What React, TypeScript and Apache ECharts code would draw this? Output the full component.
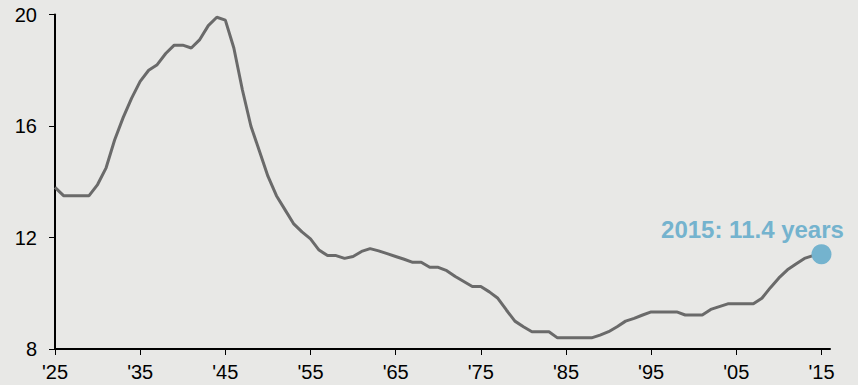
import React, { useEffect, useRef } from "react";
import * as echarts from "echarts";

const years: number[] = [];
for (let y = 1925; y <= 2015; y++) years.push(y);

const values: number[] = [
  13.8, 13.5, 13.5, 13.5, 13.5, 13.9, 14.5, 15.5, 16.3, 17.0, // 1925-1934
  17.6, 18.0, 18.2, 18.6, 18.9, 18.9, 18.8, 19.1, 19.6, 19.9, // 1935-1944
  19.8, 18.8, 17.3, 16.0, 15.1, 14.2, 13.5, 13.0, 12.5, 12.2, // 1945-1954
  11.95, 11.55, 11.35, 11.35, 11.25, 11.32, 11.5, 11.6, 11.52, 11.42, // 1955-1964
  11.32, 11.22, 11.11, 11.11, 10.93, 10.93, 10.81, 10.6, 10.42, 10.24, // 1965-1974
  10.24, 10.05, 9.82, 9.4, 9.0, 8.8, 8.62, 8.62, 8.62, 8.4, // 1975-1984
  8.4, 8.4, 8.4, 8.4, 8.5, 8.62, 8.8, 9.0, 9.1, 9.22, // 1985-1994
  9.33, 9.33, 9.33, 9.33, 9.22, 9.22, 9.22, 9.42, 9.52, 9.62, // 1995-2004
  9.62, 9.62, 9.62, 9.82, 10.2, 10.55, 10.84, 11.05, 11.25, 11.35, // 2005-2014
  11.4, // 2015
];

const tickYears: number[] = [1925, 1935, 1945, 1955, 1965, 1975, 1985, 1995, 2005, 2015];
const highlightYear = 2015;
const highlightValue = 11.4;
const highlightLabel = "2015: 11.4 years";

export default function App() {
  const ref = useRef<HTMLDivElement>(null);
  useEffect(() => {
    if (!ref.current) return;
    const chart = echarts.init(ref.current, undefined, { renderer: "svg" });
    const font = "'Liberation Sans', Arial, sans-serif";
    chart.setOption({
      animation: false,
      backgroundColor: "#e8e8e6",
      grid: { left: 55, right: 28, top: 14.5, bottom: 36 },
      xAxis: {
        type: "value",
        min: 1925,
        max: 2016,
        axisLine: { show: true, lineStyle: { color: "#000", width: 2 } },
        axisTick: {
          show: true,
          length: 6,
          inside: false,
          customValues: tickYears,
          lineStyle: { color: "#000", width: 1 },
        },
        axisLabel: {
          customValues: tickYears,
          formatter: (v: number) => "'" + String(v).slice(2),
          color: "#000",
          fontSize: 20,
          fontFamily: font,
          margin: 13,
        },
        splitLine: { show: false },
      },
      yAxis: {
        type: "value",
        min: 8,
        max: 20,
        interval: 4,
        axisLine: { show: true, lineStyle: { color: "#000", width: 2 } },
        axisTick: { show: true, length: 6, lineStyle: { color: "#000", width: 1 } },
        axisLabel: { color: "#000", fontSize: 20, fontFamily: font, margin: 18 },
        splitLine: { show: false },
      },
      series: [
        {
          type: "line",
          data: years.map((y, i) => [y, values[i]]),
          showSymbol: false,
          symbol: "none",
          lineStyle: { color: "#6a6a6a", width: 3 },
          z: 2,
        },
        {
          type: "scatter",
          data: [[highlightYear, highlightValue]],
          symbolSize: 20,
          itemStyle: { color: "#74b3ce", opacity: 1 },
          z: 3,
          label: {
            show: true,
            formatter: highlightLabel,
            position: "top",
            distance: 3,
            offset: [-69, 0],
            color: "#74b3ce",
            opacity: 1,
            fontSize: 24,
            fontWeight: "bold",
            fontFamily: font,
          },
        },
      ],
    });
    return () => chart.dispose();
  }, []);
  return (
    <div
      ref={ref}
      style={{ position: "absolute", left: 0, top: 0, width: 858, height: 385 }}
    />
  );
}
